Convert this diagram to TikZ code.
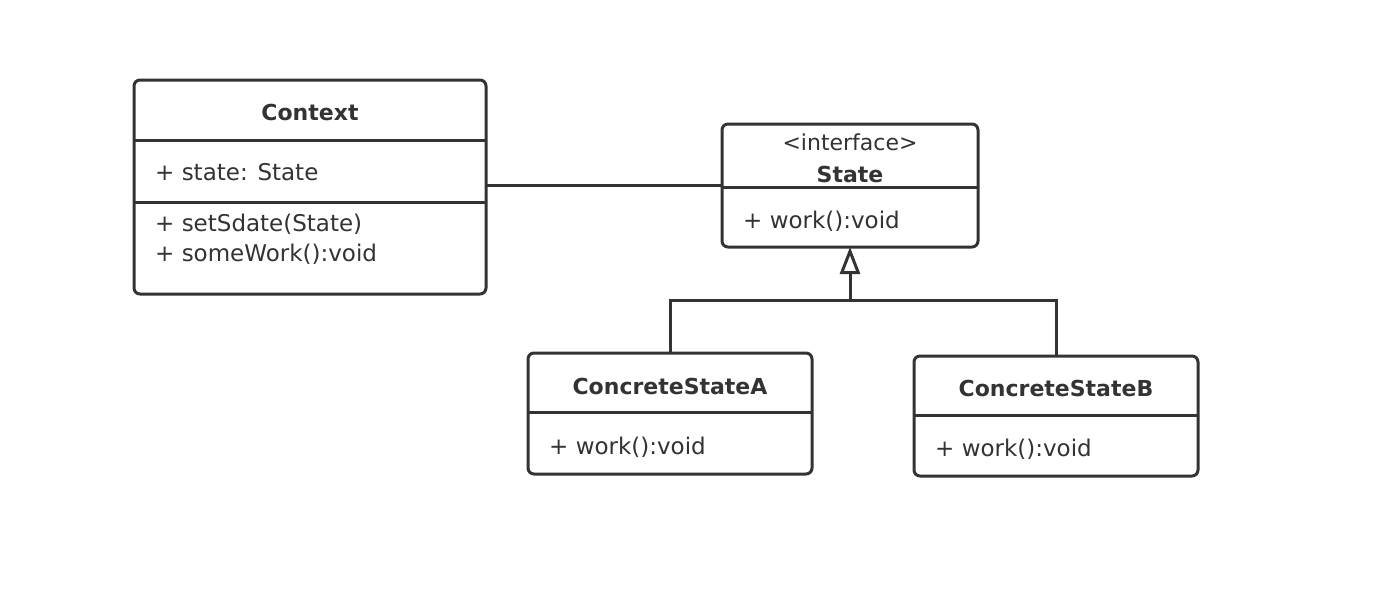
\documentclass[tikz,border=0pt]{standalone}
\usepackage{fontspec}
\setmainfont{DejaVu Sans}
\usetikzlibrary{arrows.meta}
\definecolor{ink}{HTML}{333333}
\begin{document}
\begin{tikzpicture}[x=1pt,y=-1pt,
  umlbox/.style={draw=ink,line width=3pt,rounded corners=6pt,inner sep=0pt,outer sep=0pt,anchor=north west},
  sep/.style={draw=ink,line width=3pt},
  title/.style={text=ink,font=\fontsize{22}{26}\selectfont\bfseries,anchor=base,inner sep=0pt},
  member/.style={text=ink,font=\fontsize{23}{27}\selectfont,anchor=base west,inner sep=0pt},
  conn/.style={draw=ink,line width=3pt}]
\useasboundingbox[fill=white] (0,0) rectangle (1390,598);
% Context
\node[umlbox,minimum width=352pt,minimum height=214pt] (ctx) at (134,80) {};
\draw[sep] (134,140) -- (486,140);
\draw[sep] (134,202) -- (486,202);
\node[title] (ctxT) at (310,120) {Context};
\node[member] (ctxA) at (155,180) {+ state: State};
\node[member] (ctxM1) at (155,231) {+ setSdate(State)};
\node[member] (ctxM2) at (155,261) {+ someWork():void};
% State
\node[umlbox,minimum width=256pt,minimum height=123pt] (st) at (722,124) {};
\draw[sep] (722,187) -- (978,187);
\node[text=ink,font=\fontsize{22}{26}\selectfont,anchor=base,inner sep=0pt] (stS) at (850,150) {<interface>};
\node[title] (stT) at (850,182) {State};
\node[member] (stM) at (743,228) {+ work():void};
% ConcreteStateA
\node[umlbox,minimum width=284pt,minimum height=121pt] (ca) at (528,353) {};
\draw[sep] (528,412) -- (812,412);
\node[title] (caT) at (670,394) {ConcreteStateA};
\node[member] (caM) at (549,454) {+ work():void};
% ConcreteStateB
\node[umlbox,minimum width=284pt,minimum height=120pt] (cb) at (914,356) {};
\draw[sep] (914,415) -- (1198,415);
\node[title] (cbT) at (1056,396) {ConcreteStateB};
\node[member] (cbM) at (935,456) {+ work():void};
% connectors
\draw[conn] (ctx.east |- st.west) -- (st.west);
\coordinate (join) at (850,300);
\draw[conn] (ca.north) |- (join) -| (cb.north);
\draw[conn,-{Triangle[open,length=27pt,width=20pt]}] (join) -- (st.south);
\end{tikzpicture}
\end{document}
